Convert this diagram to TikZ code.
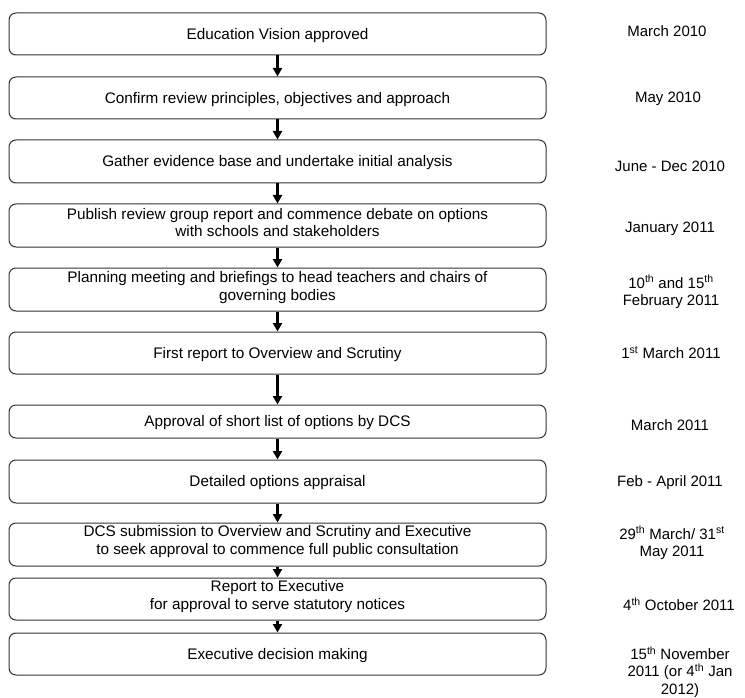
\documentclass[tikz,border=0pt]{standalone}
\usepackage{fontspec}
\setmainfont{Liberation Sans}
\usetikzlibrary{arrows.meta}
\begin{document}
\begin{tikzpicture}[x=1pt,y=-1pt,
  stepbox/.style={draw=black!80, line width=1pt, rounded corners=7pt, minimum width=537pt, inner sep=0pt},
  boxtext/.style={align=center, font=\fontsize{15.3}{17.5}\selectfont, inner sep=0pt},
  datetext/.style={align=center, font=\fontsize{15}{17.5}\selectfont, inner sep=0pt},
  flow/.style={line width=2.2pt, -{Triangle[width=9pt,length=8.5pt]}}
]
\useasboundingbox (0,0) rectangle (745,698);
% boxes
\node[stepbox, minimum height=42pt] (b1) at (277.5,34) {};
\node[stepbox, minimum height=42pt] (b2) at (277.5,98) {};
\node[stepbox, minimum height=43pt] (b3) at (277.5,161.5) {};
\node[stepbox, minimum height=43pt] (b4) at (277.5,225.5) {};
\node[stepbox, minimum height=43pt] (b5) at (277.5,289.5) {};
\node[stepbox, minimum height=42pt] (b6) at (277.5,353) {};
\node[stepbox, minimum height=33pt] (b7) at (277.5,421.5) {};
\node[stepbox, minimum height=43pt] (b8) at (277.5,481.5) {};
\node[stepbox, minimum height=43pt] (b9) at (277.5,544.5) {};
\node[stepbox, minimum height=42pt] (b10) at (277.5,599) {};
\node[stepbox, minimum height=42pt] (b11) at (277.5,654) {};
% texts
\node[boxtext] (t1) at (277.5,36) {Education Vision approved};
\node[boxtext] (t2) at (277.5,100) {Confirm review principles, objectives and approach};
\node[boxtext] (t3) at (277.5,163) {Gather evidence base and undertake initial analysis};
\node[boxtext] (t4) at (277.5,222.5) {Publish review group report and commence debate on options\\with schools and stakeholders};
\node[boxtext] (t5) at (277.5,287.5) {Planning meeting and briefings to head teachers and chairs of\\governing bodies};
\node[boxtext] (t6) at (277.5,355) {First report to Overview and Scrutiny};
\node[boxtext] (t7) at (277.5,423) {Approval of short list of options by DCS};
\node[boxtext] (t8) at (277.5,483) {Detailed options appraisal};
\node[boxtext] (t9) at (277.5,541.5) {DCS submission to Overview and Scrutiny and Executive\\to seek approval to commence full public consultation};
\node[boxtext] (t10) at (277.5,596.5) {Report to Executive\\for approval to serve statutory notices};
\node[boxtext] (t11) at (277.5,656) {Executive decision making};
% arrows
\foreach \a/\b in {b1/b2,b2/b3,b3/b4,b4/b5,b5/b6,b6/b7,b7/b8,b8/b9,b9/b10,b10/b11}
  \draw[flow] (\a.south) -- (\b.north);
% dates
\node[datetext] (d1) at (667,31) {March 2010};
\node[datetext] (d2) at (668,99) {May 2010};
\node[datetext] (d3) at (670,166) {June - Dec 2010};
\node[datetext] (d4) at (670,229) {January 2011};
\node[datetext] (d5) at (671,292) {10\textsuperscript{th} and 15\textsuperscript{th}\\February 2011};
\node[datetext] (d6) at (671,353) {1\textsuperscript{st} March 2011};
\node[datetext] (d7) at (670,425) {March 2011};
\node[datetext] (d8) at (670,483) {Feb - April 2011};
\node[datetext] (d9) at (672,543) {29\textsuperscript{th} March/ 31\textsuperscript{st}\\May 2011};
\node[datetext] (d10) at (679,604) {4\textsuperscript{th} October 2011};
\node[datetext] (d11) at (680,672) {15\textsuperscript{th} November\\2011 (or 4\textsuperscript{th} Jan\\2012)};
\end{tikzpicture}
\end{document}
